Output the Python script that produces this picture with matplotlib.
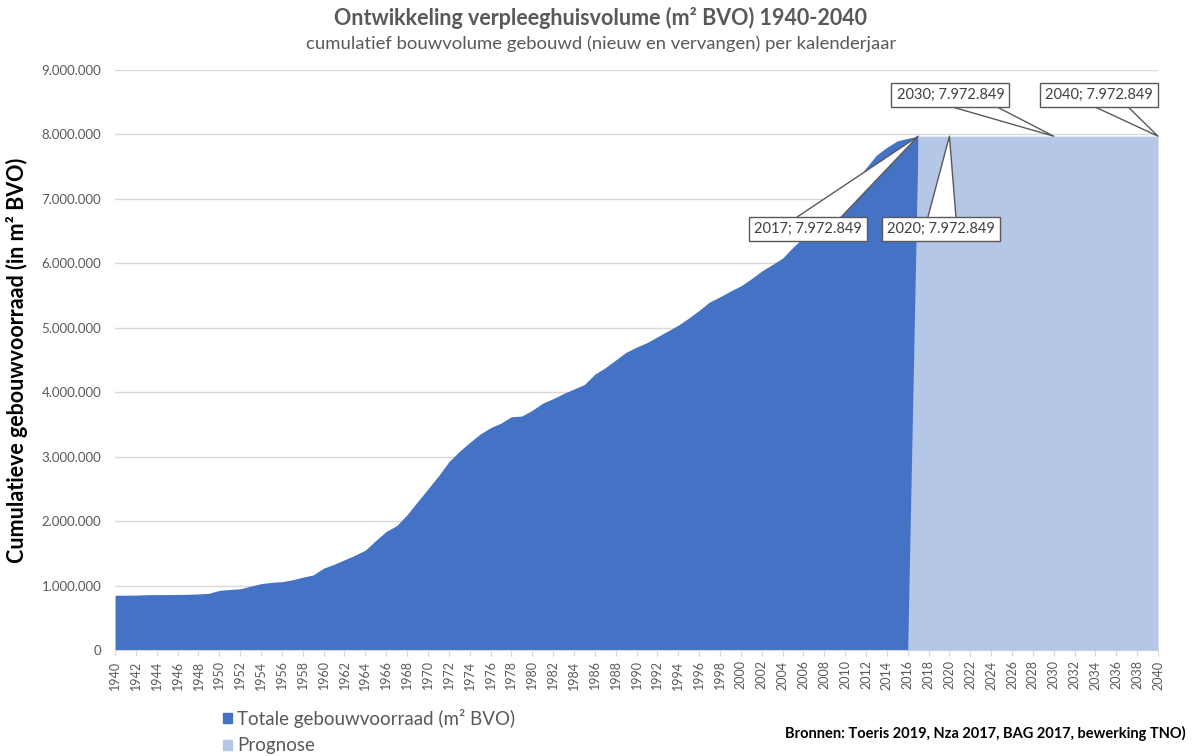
import numpy as np
import matplotlib.pyplot as plt
from matplotlib.ticker import FuncFormatter

plt.rcParams['font.family'] = ['Lato', 'DejaVu Sans']

# Data
years = list(range(1940, 2018))
totaal = [
    850000, 850000, 852000, 858000, 860000, 860000, 862000, 864000, 870000, 880000,   # 1940-1949
    925000, 940000, 950000, 990000, 1030000, 1050000, 1060000, 1090000, 1130000, 1165000,  # 1950-1959
    1270000, 1330000, 1400000, 1470000, 1550000, 1700000, 1840000, 1930000, 2100000, 2300000,  # 1960-1969
    2500000, 2700000, 2920000, 3080000, 3220000, 3350000, 3450000, 3520000, 3620000, 3630000,  # 1970-1979
    3720000, 3830000, 3900000, 3980000, 4050000, 4120000, 4280000, 4380000, 4500000, 4620000,  # 1980-1989
    4700000, 4770000, 4860000, 4950000, 5040000, 5150000, 5270000, 5400000, 5480000, 5570000,  # 1990-1999
    5650000, 5760000, 5880000, 5980000, 6080000, 6250000, 6400000, 6520000, 6650000, 6880000,  # 2000-2009
    7080000, 7270000, 7480000, 7680000, 7800000, 7900000, 7940000, 7972849,                    # 2010-2017
]
prog_years = list(range(2016, 2041))
prognose = [0] + [7972849] * 24

labels = [(2017, 7972849), (2020, 7972849), (2030, 7972849), (2040, 7972849)]
label_pos = [(2006.4, 6530000), (2019.2, 6530000), (2020.1, 8610000), (2034.3, 8610000)]
wedge_w = [2.2, 2.2, 1.5, 1.7]

dark = '#4472C4'
light = '#B4C7E7'
grey = '#595959'

fig = plt.figure(figsize=(12.02, 7.56), dpi=100)
ax = fig.add_axes([0.0957, 0.1402, 0.8677, 0.7672])

ax.fill_between(years, totaal, color=dark, lw=0, zorder=2)
ax.fill_between(prog_years, prognose, color=light, lw=0, zorder=3)

ax.set_xlim(1940, 2040)
ax.set_ylim(0, 9000000)
ax.set_yticks(np.arange(0, 9000001, 1000000))
ax.yaxis.set_major_formatter(FuncFormatter(lambda v, p: f'{int(v):,}'.replace(',', '.')))
ax.set_xticks(range(1940, 2041, 2))
ax.tick_params(axis='x', labelrotation=90, labelsize=9, colors=grey, length=4, color='#d9d9d9')
ax.tick_params(axis='y', labelsize=9.5, colors=grey, length=0, pad=10)
ax.grid(axis='y', color='#d9d9d9', lw=1, zorder=0)
ax.set_axisbelow(True)
for s in ['top', 'right', 'left']:
    ax.spines[s].set_visible(False)
ax.spines['bottom'].set_color('#d9d9d9')

ax.set_ylabel('Cumulatieve gebouwvoorraad (in m² BVO)', fontsize=15.5, fontweight='bold',
              color='black', labelpad=10)

for (x, y), (tx, ty), w in zip(labels, label_pos, wedge_w):
    ax.annotate(f'{x}; {y:,}'.replace(',', '.'), xy=(x, y), xytext=(tx, ty),
                ha='center', va='center', fontsize=10.5, color='#404040', zorder=6,
                annotation_clip=False,
                bbox=dict(boxstyle='square,pad=0.35', fc='white', ec=grey, lw=1),
                arrowprops=dict(arrowstyle=f'wedge,tail_width={w}', fc='white', ec=grey,
                                lw=1, patchA=None, shrinkA=0, shrinkB=0))

fig.text(0.5, 0.976, 'Ontwikkeling verpleeghuisvolume (m² BVO) 1940-2040', ha='center',
         va='center', fontsize=15.5, fontweight='bold', color=grey)
fig.text(0.5, 0.942, 'cumulatief bouwvolume gebouwd (nieuw en vervangen) per kalenderjaar',
         ha='center', va='center', fontsize=13.3, color=grey)

# legend
fig.patches.append(plt.Rectangle((0.1855, 0.044), 0.0075, 0.013, transform=fig.transFigure,
                                 color=dark))
fig.patches.append(plt.Rectangle((0.1855, 0.008), 0.0075, 0.013, transform=fig.transFigure,
                                 color=light))
fig.text(0.197, 0.050, 'Totale gebouwvoorraad (m² BVO)', va='center', fontsize=13.5, color=grey)
fig.text(0.197, 0.014, 'Prognose', va='center', fontsize=13.5, color=grey)
fig.text(0.986, 0.030, 'Bronnen: Toeris 2019, Nza 2017, BAG 2017, bewerking TNO)', ha='right',
         va='center', fontsize=10.5, fontweight='bold', color='black')

fig.savefig('out.png', dpi=100)
